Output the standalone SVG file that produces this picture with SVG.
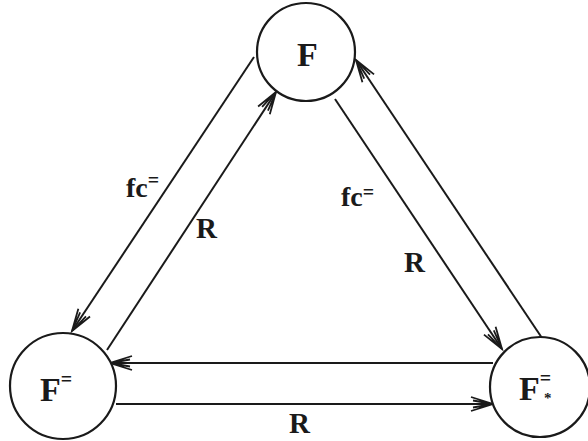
<svg xmlns="http://www.w3.org/2000/svg" width="588" height="441" viewBox="0 0 588 441">
<style>
.node{fill:#fff;stroke:#1a1a1a;stroke-width:2.2}
.lbl{font-family:"Liberation Serif",serif;font-weight:bold;fill:#1a1a1a}
.edge{stroke:#1a1a1a;stroke-width:2;fill:none;marker-end:url(#arr)}
</style>
<defs>
<marker id="arr" markerUnits="userSpaceOnUse" viewBox="-25 -10 30 20" markerWidth="30" markerHeight="20" refX="0" refY="0" orient="auto" overflow="visible">
<path d="M-22,-7 L0,0 L-22,7 M-20,-3.5 L0,0 L-20,3.5" fill="none" stroke="#1a1a1a" stroke-width="1.8"/>
</marker>
</defs>
<rect width="588" height="441" fill="#fff"/>
<g id="connectors">
<line class="edge" x1="254" y1="57" x2="72" y2="331"/>
<line class="edge" x1="107" y1="350" x2="276" y2="92"/>
<line class="edge" x1="335" y1="99" x2="502" y2="349"/>
<line class="edge" x1="542" y1="338" x2="356" y2="60"/>
<line class="edge" x1="493" y1="363" x2="110" y2="363"/>
<line class="edge" x1="116" y1="404" x2="493" y2="404"/>
<text class="lbl" x="126" y="197" font-size="28">fc<tspan font-size="20" dy="-10">=</tspan></text>
<text class="lbl" x="196" y="238" font-size="29">R</text>
<text class="lbl" x="341" y="206" font-size="28">fc<tspan font-size="20" dy="-7">=</tspan></text>
<text class="lbl" x="404" y="272" font-size="29">R</text>
<text class="lbl" x="289" y="433" font-size="29">R</text>
</g>
<g id="node-F">
<circle class="node" cx="306" cy="52" r="49"/>
<text class="lbl" x="297" y="66" font-size="34">F</text>
</g>
<g id="node-Feq">
<circle class="node" cx="63" cy="386" r="53"/>
<text class="lbl" x="40" y="401" font-size="34">F<tspan font-size="20" dy="-15">=</tspan></text>
</g>
<g id="node-Fstar">
<circle class="node" cx="540" cy="387" r="50"/>
<text class="lbl" x="519" y="400" font-size="34">F<tspan font-size="20" dy="-15">=</tspan></text>
<text class="lbl" x="544" y="403" font-size="15">*</text>
</g>
</svg>
